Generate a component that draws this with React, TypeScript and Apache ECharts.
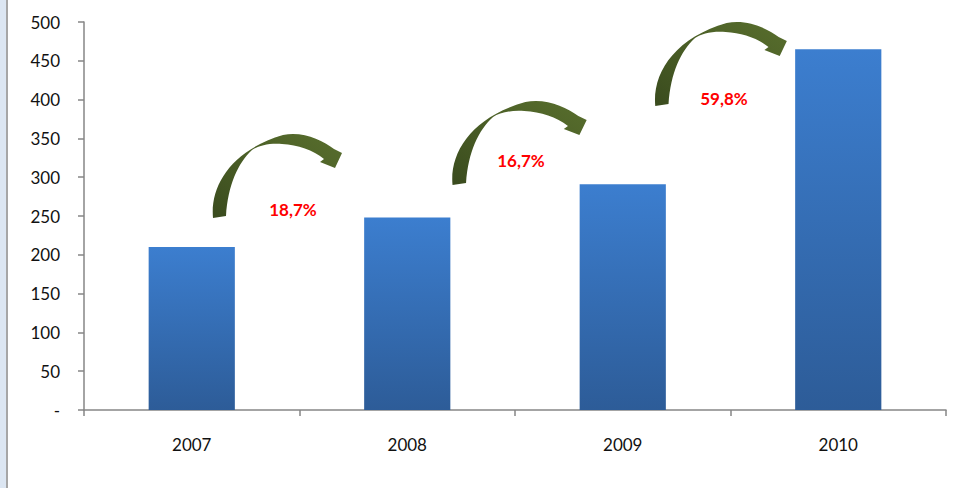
import React, { useEffect, useRef } from "react";
import * as echarts from "echarts";

const categories = ["2007", "2008", "2009", "2010"];
const values = [210, 248, 291, 465];
const growthLabels = ["18,7%", "16,7%", "59,8%"];
const yTicks = { min: 0, max: 500, interval: 50 };

// decorative curved arrow outline (local coordinates)
const ARROW_D =
  "M 13 88 C 10 55 32 20 83 5 C 103 1 122 10 134 19 L 142 23 L 135 38 L 120 32 L 124 29 " +
  "C 113 20 98 15 82 14 C 68 13 58 16 52 20 C 38 33 28 55 26 86 Z";

let registered = false;
function ensureShape() {
  if (registered) return;
  echarts.graphic.registerShape("curvedArrow", echarts.graphic.extendPath(ARROW_D, {}) as any);
  registered = true;
}

const arrowPlacements = [
  { x: 200, y: 130, sx: 1.0 },
  { x: 439, y: 97, sx: 1.04 },
  { x: 642, y: 18, sx: 1.02 },
];
const labelPlacements = [
  { x: 293, y: 209 },
  { x: 521, y: 160 },
  { x: 724, y: 98 },
];

const FONT = "Lato, 'Liberation Sans', sans-serif";

export default function App() {
  const ref = useRef<HTMLDivElement>(null);
  useEffect(() => {
    document.body.style.margin = "0";
    ensureShape();
    const chart = echarts.init(ref.current!, null, { renderer: "svg" });
    const arrowFill = new echarts.graphic.LinearGradient(0, 1, 1, 0, [
      { offset: 0, color: "#3a4b1e" },
      { offset: 0.5, color: "#4a5e26" },
      { offset: 1, color: "#586e2d" },
    ]);
    const graphics: any[] = [
      { type: "rect", left: 0, top: 0, shape: { width: 6, height: 488 }, style: { fill: "#dce6f2" }, silent: true },
      { type: "rect", left: 6, top: 0, shape: { width: 2, height: 488 }, style: { fill: "#a6a6a6" }, silent: true },
    ];
    arrowPlacements.forEach((p) => {
      graphics.push({
        type: "curvedArrow",
        x: p.x,
        y: p.y,
        scaleX: p.sx,
        scaleY: 1,
        style: { fill: arrowFill },
        silent: true,
      });
    });
    growthLabels.forEach((t, i) => {
      graphics.push({
        type: "text",
        x: labelPlacements[i].x,
        y: labelPlacements[i].y,
        style: {
          text: t,
          fill: "#ff0000",
          font: `bold 17px ${FONT}`,
          align: "center",
          verticalAlign: "middle",
        },
        silent: true,
      });
    });
    chart.setOption({
      animation: false,
      backgroundColor: "#ffffff",
      grid: { left: 84, right: 21, top: 22, bottom: 78, containLabel: false },
      xAxis: {
        type: "category",
        data: categories,
        boundaryGap: true,
        axisLine: { lineStyle: { color: "#868686", width: 1.5 } },
        axisTick: { show: true, length: 6, lineStyle: { color: "#868686", width: 1.5 } },
        axisLabel: { color: "#111", fontSize: 17, fontFamily: FONT, margin: 26 },
      },
      yAxis: {
        type: "value",
        min: yTicks.min,
        max: yTicks.max,
        interval: yTicks.interval,
        splitLine: { show: false },
        axisLine: { show: true, lineStyle: { color: "#868686", width: 1.5 } },
        axisTick: { show: true, length: 6, lineStyle: { color: "#868686", width: 1.5 } },
        axisLabel: {
          color: "#111",
          fontSize: 17,
          fontFamily: FONT,
          margin: 24,
          formatter: (v: number) => (v === 0 ? "-" : String(v)),
        },
      },
      series: [
        {
          type: "bar",
          data: values,
          barWidth: "40%",
          itemStyle: {
            color: new echarts.graphic.LinearGradient(0, 0, 0, 1, [
              { offset: 0, color: "#3c7ecf" },
              { offset: 1, color: "#2d5c98" },
            ]),
          },
        },
      ],
      graphic: graphics,
    });
    return () => chart.dispose();
  }, []);
  return <div ref={ref} style={{ width: 967, height: 488, position: "absolute", left: 0, top: 0 }} />;
}
